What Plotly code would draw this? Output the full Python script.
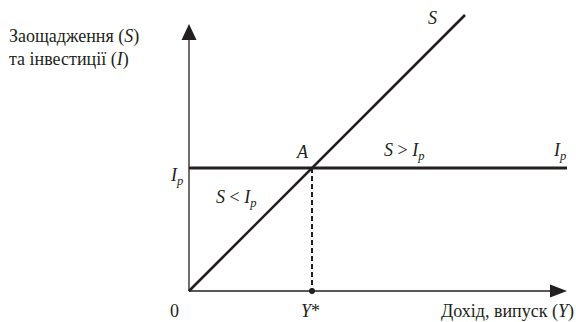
import plotly.graph_objects as go

# model units: income Y on x, saving / investment on y (1 unit ~ 1 px)
y_income = [0, 276]          # saving line S = Y
s_saving = [0, 276]
ip_x = [0, 378]              # planned investment, horizontal
ip_y = [123, 123]
y_star = 123                 # equilibrium income at A
x_axis_len = 378
y_axis_len = 267

FONT = "Liberation Serif"    # falls back to sans above 18px here
INK = "#231f20"

fig = go.Figure()

# axes
fig.add_trace(go.Scatter(x=[0, x_axis_len - 14], y=[0, 0], mode="lines",
                         line=dict(color=INK, width=1.3), hoverinfo="skip"))
fig.add_trace(go.Scatter(x=[0, 0], y=[0, y_axis_len - 14], mode="lines",
                         line=dict(color=INK, width=1.3), hoverinfo="skip"))

# arrow heads
fig.add_shape(type="path", xref="x", yref="y",
              path=f"M {x_axis_len} 0 L {x_axis_len-17} 6.5 L {x_axis_len-17} -6.5 Z",
              fillcolor=INK, line=dict(width=0))
fig.add_shape(type="path", xref="x", yref="y",
              path=f"M 0 {y_axis_len} L -7.5 {y_axis_len-16} L 7.5 {y_axis_len-16} Z",
              fillcolor=INK, line=dict(width=0))

# Ip line
fig.add_trace(go.Scatter(x=ip_x, y=ip_y, mode="lines",
                         line=dict(color=INK, width=3.2), hoverinfo="skip"))
# S line
fig.add_trace(go.Scatter(x=y_income, y=s_saving, mode="lines",
                         line=dict(color=INK, width=2.6), hoverinfo="skip"))
# dashed drop to Y*
fig.add_trace(go.Scatter(x=[y_star, y_star], y=[ip_y[0], 0], mode="lines",
                         line=dict(color=INK, width=2, dash="5px,3px"), hoverinfo="skip"))
fig.add_trace(go.Scatter(x=[y_star], y=[0], mode="markers",
                         marker=dict(color=INK, size=6), hoverinfo="skip"))

def label(x, y, text, size=18, xanchor="center", yanchor="middle"):
    fig.add_annotation(x=x, y=y, xref="x", yref="y", text=text, showarrow=False,
                       xanchor=xanchor, yanchor=yanchor,
                       font=dict(family=FONT, size=size, color=INK))

IP = "<i>I</i><sub><i>p</i></sub>"

label(-182, 255, "Заощадження (<i>S</i>)", xanchor="left")
label(-182, 232, "та інвестиції (<i>I</i>)", xanchor="left")
label(243, 273, "<i>S</i>")
label(113, 139, "<i>A</i>")
label(215, 140, "<i>S</i> &gt; " + IP)
label(370, 140, IP)
label(-13, 115, IP)
label(47, 93, "<i>S</i> &lt; " + IP)
label(-15, -20, "0")
label(121, -20, "<i>Y</i>*")
label(387, -20, "Дохід, випуск (<i>Y</i>)", xanchor="right")

fig.update_layout(
    width=576, height=322,
    margin=dict(l=0, r=0, t=0, b=0),
    paper_bgcolor="white", plot_bgcolor="white",
    showlegend=False,
    xaxis=dict(range=[-189, 387], visible=False, fixedrange=True),
    yaxis=dict(range=[-31, 291], visible=False, fixedrange=True),
)

fig.write_html("out.html", post_script="document.body.style.margin='0';",
               config={"displayModeBar": False})
